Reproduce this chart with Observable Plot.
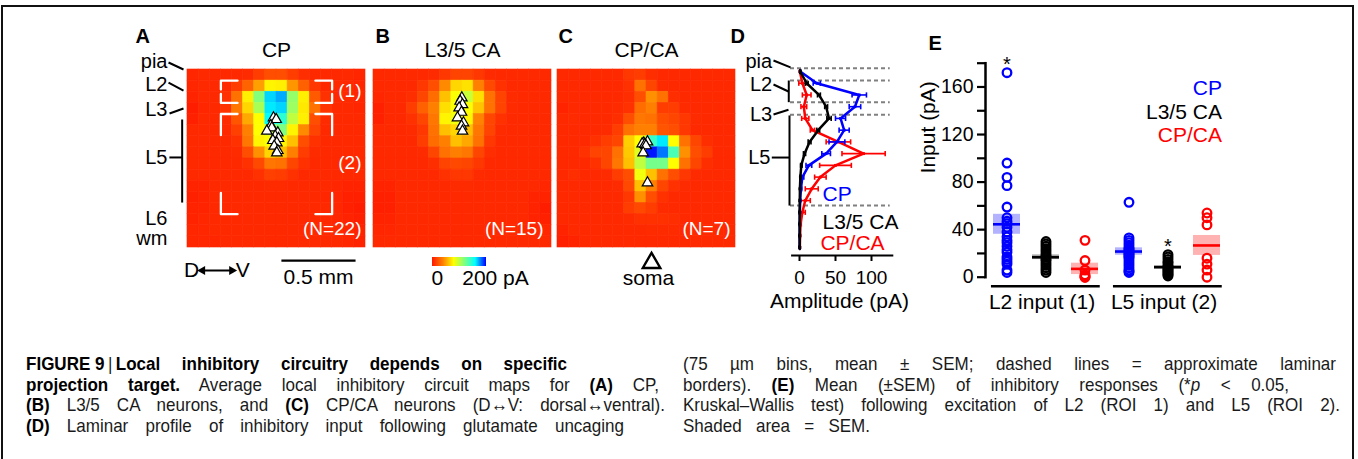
<!DOCTYPE html>
<html><head><meta charset="utf-8">
<script src="https://cdn.jsdelivr.net/npm/d3@7"></script>
<script src="https://cdn.jsdelivr.net/npm/@observablehq/plot@0.6"></script>
<style>
html,body{margin:0;padding:0;background:#fff;}
#fig{position:relative;width:1358px;height:459px;overflow:hidden;font-family:"Liberation Sans",Arial,Helvetica,sans-serif;}
#frame{position:absolute;left:1px;top:5px;width:1349px;height:480px;border:2px solid #111;}
.cap{position:absolute;font-family:"Liberation Sans",Arial,sans-serif;font-size:18.5px;line-height:20px;height:20px;text-align:justify;text-align-last:justify;color:#1a1a1a;transform-origin:0 50%;white-space:normal;}
.cap b{font-weight:bold;color:#000;}
.cap .ib{display:inline-block;}
</style></head><body><div id="fig"><div id="frame"></div></div>
<script>
// ---------------- DATA ----------------
const BIN_UM = 75;          // map / profile bin size (µm)
const N_BINS = 16;

// Average inhibitory maps (pA), rows = depth from pia, cols = dorsal -> ventral
const mapCP = [
 [4,5,5,5,5,6,12,18,18,12,7,5,5,5,5,4],
 [4,5,5,5,12,25,45,72,70,42,24,10,5,5,5,4],
 [3,5,5,8,30,70,104,150,160,100,70,22,8,5,5,4],
 [1,4,5,9,32,62,95,145,150,98,68,30,9,5,5,4],
 [2,5,5,6,20,48,75,140,128,90,70,18,6,5,5,5],
 [5,5,5,5,13,35,75,90,105,72,38,14,5,5,5,5],
 [5,5,5,5,8,32,72,76,72,55,18,8,5,5,5,5],
 [5,5,5,5,6,18,40,62,55,35,12,6,5,5,5,5],
 [5,5,5,5,5,8,16,32,30,15,8,5,5,5,5,5],
 [5,5,5,5,5,5,8,13,12,8,5,5,5,5,5,5],
 [3,3,5,5,5,5,5,6,6,5,5,5,5,4,3,3],
 [2,3,5,5,5,5,5,5,5,5,5,5,4,4,2,2],
 [3,3,5,5,5,5,5,5,5,5,5,5,5,4,2,1],
 [3,4,5,5,5,5,5,5,5,5,5,5,5,4,3,2],
 [4,4,5,5,5,5,5,5,5,5,5,5,5,5,4,3],
 [4,4,4,5,5,5,5,5,5,5,5,5,5,5,4,3]
];
const mapCA = [
 [5,5,5,5,5,6,10,14,14,10,6,5,5,5,5,5],
 [5,5,5,5,10,18,38,62,66,35,16,8,5,5,5,5],
 [4,5,5,7,15,28,55,76,88,65,30,14,6,5,5,5],
 [2,5,5,12,24,35,65,76,76,56,30,14,6,5,5,5],
 [2,5,5,8,15,32,72,78,72,36,15,8,5,5,5,5],
 [5,5,5,6,10,30,55,62,55,32,14,6,5,5,5,5],
 [5,5,5,5,12,28,35,55,48,30,10,5,5,5,5,5],
 [5,5,5,5,6,15,30,35,32,15,7,5,5,5,5,5],
 [5,5,5,5,5,7,14,16,15,10,5,5,5,5,5,5],
 [5,5,5,5,5,5,8,10,10,6,5,5,5,5,5,5],
 [3,3,5,5,5,5,5,6,6,5,5,5,5,5,5,4],
 [2,2,5,5,5,5,5,5,5,5,5,5,5,5,3,3],
 [2,2,5,5,5,5,5,5,5,5,5,5,5,5,3,1],
 [3,3,5,5,5,5,5,5,5,5,5,5,5,5,3,2],
 [4,4,5,5,5,5,5,5,5,5,5,5,5,5,4,4],
 [5,5,5,5,5,5,5,5,5,5,5,5,5,5,5,5]
];
const mapCPCA = [
 [5,5,5,5,5,5,10,12,7,5,5,5,5,5,5,5],
 [5,5,5,5,5,5,8,30,15,6,5,5,5,5,5,5],
 [5,5,5,5,5,5,7,18,40,30,7,5,5,5,5,5],
 [3,5,5,5,5,6,8,28,35,12,12,6,5,5,5,5],
 [5,6,5,5,5,7,18,32,30,18,15,10,6,5,5,5],
 [5,5,5,5,6,12,30,35,35,20,18,10,5,5,5,5],
 [5,5,5,8,12,15,60,75,125,145,75,30,15,7,5,5],
 [5,5,8,14,15,30,58,82,195,172,120,40,18,12,5,5],
 [5,5,5,8,15,32,55,90,108,108,75,30,15,7,5,5],
 [5,7,5,5,6,12,18,78,55,30,18,10,6,5,5,5],
 [5,5,5,5,5,6,16,55,35,15,8,6,5,5,5,5],
 [5,5,5,5,5,5,10,40,18,8,5,5,5,5,5,5],
 [5,5,5,5,5,5,12,16,12,6,5,5,5,5,5,5],
 [5,5,5,5,5,5,6,8,8,8,7,5,5,5,5,5],
 [3,5,5,5,5,5,5,5,6,6,6,5,5,5,5,5],
 [2,3,5,5,5,5,5,5,5,5,5,5,5,5,5,5]
];
// soma positions, in map bins [col, row]
const somaCP = [[7.73,4.34],[7.97,4.49],[7.49,5.03],[7.58,5.24],[7.13,5.54],[8.12,5.69],[7.88,5.99],[8.18,6.2],[7.67,6.38],[8.03,6.59],[7.79,6.89],[8.12,7.28],[8.03,7.49]];
const somaCA = [[7.94,2.55],[7.79,2.85],[8.0,3.15],[7.7,3.45],[7.91,3.84],[7.55,4.34],[8.09,4.79],[7.91,5.09],[8.0,5.54]];
const somaCPCA = [[8.09,6.5],[7.75,6.6],[7.61,6.68],[7.85,6.74],[7.95,6.85],[7.7,7.49],[8.09,10.19]];
const nCP = 22, nCA = 15, nCPCA = 7;
// ROIs used in panel E (bins)
const roiNames = ["(1)", "(2)"];
const roiCols = [[3,13],[3,13]];
const roiRows = [[1,3],[4,13]];

// colour map (pA)
const colorStops = [0, 35, 75, 105, 140, 200];
const colorRange = ["#ff1a00", "#ff8000", "#ffff00", "#80ff80", "#00ffff", "#0000ff"];

// Panel D laminar profile (mean ± SEM per 75 µm bin)
const profCPMean   = [1, 24, 83, 77, 57, 62, 52, 37, 13, 4, 2, 1, 0.5, 0.3, 0.3, 0.3];
const profCPSem    = [0.5, 5, 10, 8, 7, 7, 11, 6, 4, 2, 1, 0.5, 0.3, 0.2, 0.2, 0.2];
const profCAMean   = [1, 10, 27, 37, 41, 26, 14, 7, 2.5, 1.2, 0.6, 0.4, 0.3, 0.3, 0.3, 0.3];
const profCASem    = [0.5, 2, 2, 2, 3, 2, 2, 1.5, 1, 0.5, 0.3, 0.2, 0.2, 0.2, 0.2, 0.2];
const profCPCAMean = [0.5, 4, 10, 6, 8, 18, 54, 89, 50, 29, 17, 8, 4, 1.5, 0.8, 0.5];
const profCPCASem  = [0.3, 5, 6, 4, 5, 3, 17, 30, 22, 8, 9, 7, 4, 1, 0.5, 0.3];
const borderDepths = [-21, 57.5, 196, 277, 857]; // approximate laminar borders (µm)
const ampTicks = [0, 50, 100];

// Panel E inputs (pA)
const regions = ["L2 input (1)", "L5 input (2)"];
const seriesNames = ["CP", "L3/5 CA", "CP/CA"];
const seriesColors = ["#0000ff", "#000000", "#ff0000"];
const l2CP   = [172, 96, 84, 77, 59, 50, 47, 45, 42, 38, 34, 31, 29, 26, 23, 21, 17, 15, 13, 11, 6, 4];
const l2CA   = [30, 28, 26, 24, 22, 20, 18, 17, 15, 14, 12, 10, 8, 6, 4];
const l2CPCA = [31, 14, 6, 2, 1, 0, 0];
const l5CP   = [63, 33, 31, 29, 27, 25, 24, 23, 22, 21, 20, 19, 18, 17, 16, 14, 12, 10, 8, 6, 5, 4];
const l5CA   = [19, 17, 15, 13, 12, 10, 9, 8, 7, 6, 5, 4, 3, 2, 1];
const l5CPCA = [54, 50, 44, 16, 11, 6, 0];
const l2Mean = [44.5, 16.8, 7];
const l2Sem  = [8.4, 2, 4.8];
const l5Mean = [21.6, 8.4, 26.7];
const l5Sem  = [3.1, 1.4, 8.4];
const significant = [["L2 input (1)", "CP"], ["L5 input (2)", "L3/5 CA"]];
const inputTicks = [0, 20, 40, 60, 80, 100, 120, 140, 160, 180];

// ---------------- DRAWING ----------------
const FONT = '"Liberation Sans", Arial, Helvetica, sans-serif';
const fig = document.getElementById("fig");
const colorOpts = {type: "linear", domain: colorStops, range: colorRange, interpolate: "rgb", clamp: true};
const MAP_PX = 178, MAP_TOP = 69;
const plotStyle = fs => ({background: "transparent", overflow: "visible", fontFamily: FONT, fontSize: fs + "px", color: "black"});
function place(el, left, top) {
  el.style.position = "absolute"; el.style.left = left + "px"; el.style.top = top + "px";
  el.style.maxWidth = "none";
  fig.appendChild(el); return el;
}
const vtick = {draw(ctx, size) { const h = Math.sqrt(size / Math.PI); ctx.moveTo(0, -h); ctx.lineTo(0, h); }};

function heatmap(values, soma, n, nDx, mapLeft, svgLeft, svgWidth, extra) {
  const cells = values.flatMap((row, r) => row.map((v, c) => ({r, c, v})));
  const mL = mapLeft - svgLeft, mT = MAP_TOP - 20, H = 290;
  const svg = Plot.plot({
    width: svgWidth, height: H,
    marginLeft: mL, marginRight: svgWidth - mL - MAP_PX, marginTop: mT, marginBottom: H - mT - MAP_PX,
    x: {domain: [0, N_BINS * BIN_UM], axis: null},
    y: {domain: [0, N_BINS * BIN_UM], reverse: true, axis: null},
    color: colorOpts,
    style: plotStyle(20),
    marks: [
      Plot.rect(cells, {x1: d => d.c * BIN_UM, x2: d => (d.c + 1) * BIN_UM, y1: d => d.r * BIN_UM, y2: d => (d.r + 1) * BIN_UM, fill: "v", stroke: "v", strokeWidth: 0.6}),
      ...extra,
      Plot.text([`(N=${n})`], {frameAnchor: "bottom-right", dx: nDx, dy: -13, textAnchor: "end", fill: "white", fontSize: 19}),
      Plot.dot(soma, {x: d => d[0] * BIN_UM, y: d => d[1] * BIN_UM, symbol: "triangle", r: 3.9, fill: "white", stroke: "black", strokeWidth: 1.2})
    ]
  });
  return place(svg, svgLeft, 20);
}

// ROI brackets (panel A)
const armH = 1.5;
const brackets = [];
roiNames.forEach((nm, i) => {
  const [c0, c1] = roiCols[i], [r0, r1] = roiRows[i];
  const armV = Math.min(1.9, (r1 - r0) * 0.4);
  [[c0, r0, 1, 1], [c1, r0, -1, 1], [c0, r1, 1, -1], [c1, r1, -1, -1]].forEach(([cx, cy, sx, sy], k) => {
    const id = nm + k;
    brackets.push({id, x: (cx + sx * armH) * BIN_UM, y: cy * BIN_UM});
    brackets.push({id, x: cx * BIN_UM, y: cy * BIN_UM});
    brackets.push({id, x: cx * BIN_UM, y: (cy + sy * armV) * BIN_UM});
  });
});
const roiLabelY = roiRows.map(([r0, r1]) => r0 === 1 ? 146 : 627);

// ---- Panel A ----
heatmap(mapCP, somaCP, nCP, -4, 187, 120, 250, [
  Plot.line(brackets, {x: "x", y: "y", z: "id", stroke: "white", strokeWidth: 2.3}),
  Plot.text(roiNames, {x: 1173, y: roiLabelY, textAnchor: "end", fill: "white", fontSize: 19}),
  Plot.text(["A"], {x: -350, y: -222, textAnchor: "start", fontWeight: "bold", fontSize: 20}),
  Plot.text(["CP"], {x: 600, y: -128, fontSize: 21}),
  Plot.text(["pia", "L2", "L3", "L5", "L6", "wm"], {x: -135, y: [-54, 101, 270, 593, 1005, 1140], textAnchor: "end", fontSize: 20}),
  Plot.link([[-128, -47, -27, 0], [-128, 88, -27, 142], [-121, 297, -27, 263], [-36, 337, -36, 897], [-122, 593, -36, 593]],
    {x1: d => d[0], y1: d => d[1], x2: d => d[2], y2: d => d[3], stroke: "black", strokeWidth: 2}),
  Plot.text(["D", "V"], {x: [27, 373], y: 1355, fontSize: 21}),
  Plot.link([0], {x1: 90, x2: 310, y1: 1355, y2: 1355, stroke: "black", strokeWidth: 2}),
  Plot.dot([-90, 90], {x: [101, 299], y: 1355, rotate: d => d, symbol: "triangle", r: 3.4, fill: "black"}),
  Plot.link([500], {x1: d => 1133 - d, x2: 1133, y1: 1288, y2: 1288, stroke: "black", strokeWidth: 2.2}),
  Plot.text(["0.5 mm"], {x: 883, y: 1400, fontSize: 21})
]);

// ---- Panel B ----
heatmap(mapCA, somaCA, nCA, -8, 373, 363, 192, [
  Plot.text(["B"], {x: 13, y: -222, textAnchor: "start", fontWeight: "bold", fontSize: 20}),
  Plot.text(["L3/5 CA"], {x: 600, y: -128, fontSize: 21}),
  Plot.text([String(colorStops[0])], {x: 431, y: 1409, fontSize: 21}),
  Plot.text([colorStops[colorStops.length - 1] + " pA"], {x: 598, y: 1409, textAnchor: "start", fontSize: 21})
]);

// ---- Panel C ----
heatmap(mapCPCA, somaCPCA, nCPCA, -5, 557, 547, 192, [
  Plot.text(["C"], {x: 7, y: -222, textAnchor: "start", fontWeight: "bold", fontSize: 20}),
  Plot.text(["CP/CA"], {x: 600, y: -128, fontSize: 21}),
  Plot.dot([0], {x: 634, y: 1304, symbol: "triangle", r: 6.5, fill: "white", stroke: "black", strokeWidth: 2.4}),
  Plot.text(["soma"], {x: 613, y: 1409, fontSize: 21})
]);

// colour bar
try {
  const ramp = Plot.legend({color: colorOpts, legend: "ramp", width: 54, height: 9, marginTop: 0, marginBottom: 0, marginLeft: 0, marginRight: 0, ticks: [], tickSize: 0, label: null});
  place(ramp, 432, 257);
} catch (e) { console.error(e); }

// ---- Panel D ----
const profiles = [
  {name: "CP/CA", color: "#ff0000", mean: profCPCAMean, sem: profCPCASem},
  {name: "CP", color: "#0000ff", mean: profCPMean, sem: profCPSem},
  {name: "L3/5 CA", color: "#000000", mean: profCAMean, sem: profCASem}
];
const profMarks = profiles.flatMap(p => {
  const rows = p.mean.map((m, i) => ({depth: i * BIN_UM, mean: m, lo: m - p.sem[i], hi: m + p.sem[i]}));
  return [
    Plot.link(rows, {x1: "lo", x2: "hi", y1: "depth", y2: "depth", stroke: p.color, strokeWidth: 1.6}),
    Plot.dot(rows, {x: "lo", y: "depth", symbol: vtick, r: 2.6, fill: "none", stroke: p.color, strokeWidth: 1.6}),
    Plot.dot(rows, {x: "hi", y: "depth", symbol: vtick, r: 2.6, fill: "none", stroke: p.color, strokeWidth: 1.6}),
    Plot.line(rows, {x: "mean", y: "depth", stroke: p.color, strokeWidth: 2.5}),
    Plot.dot(rows, {x: "mean", y: "depth", symbol: "square", r: 1.6, fill: p.color})
  ];
});
const dSvg = Plot.plot({
  width: 190, height: 300, marginLeft: 71.7, marginRight: 18.3, marginTop: 30, marginBottom: 65,
  x: {domain: [0, 100], range: [79, 151], axis: null},
  y: {domain: [0, (N_BINS - 1) * BIN_UM], range: [51, 227], axis: null},
  style: plotStyle(20),
  marks: [
    Plot.ruleY(borderDepths, {x1: -12.5, x2: 126, stroke: "#808080", strokeWidth: 2, strokeDasharray: "4 3"}),
    ...profMarks,
    Plot.frame({anchor: "bottom", strokeWidth: 2.2}),
    Plot.axisX({ticks: ampTicks, tickSize: 6, tickPadding: 9, fontSize: 19, strokeWidth: 2, label: null}),
    Plot.text(["Amplitude (pA)"], {x: 55.5, y: 1470, fontSize: 21}),
    Plot.text(["D"], {x: -95.8, y: -224, textAnchor: "start", fontWeight: "bold", fontSize: 20}),
    Plot.text(["pia", "L2", "L3", "L5"], {x: [-38, -38, -38, -40.3], y: [-64, 83, 275, 550], textAnchor: "end", fontSize: 20}),
    Plot.link([[-36.1, -70, -12.5, -26], [-36.1, 83, -15.3, 128], [-14.9, 57.5, -14.9, 196], [-36.1, 275, -15.3, 245], [-13.9, 281, -13.9, 857], [-38.5, 550, -13.9, 550]],
      {x1: d => d[0], y1: d => d[1], x2: d => d[2], y2: d => d[3], stroke: "black", strokeWidth: 2}),
    Plot.text(["CP"], {x: 32, y: 786, textAnchor: "start", fill: "#0000ff", fontSize: 21}),
    Plot.text(["L3/5 CA"], {x: 32, y: 963, textAnchor: "start", fill: "#000000", fontSize: 21}),
    Plot.text(["CP/CA"], {x: 29, y: 1096, textAnchor: "start", fill: "#ff0000", fontSize: 21})
  ]
});
place(dSvg, 720, 20);

// ---- Panel E ----
const inputValues = [[l2CP, l2CA, l2CPCA], [l5CP, l5CA, l5CPCA]];
const inputMeans = [l2Mean, l5Mean], inputSems = [l2Sem, l5Sem];
const colorOf = s => seriesColors[seriesNames.indexOf(s)];
const eRows = [], eSummary = [];
regions.forEach((reg, gi) => seriesNames.forEach((s, si) => {
  inputValues[gi][si].forEach(v => eRows.push({region: reg, series: s, value: v}));
  eSummary.push({region: reg, series: s, mean: inputMeans[gi][si], sem: inputSems[gi][si], max: d3.max(inputValues[gi][si])});
}));
const sigRows = significant.map(([reg, s]) => eSummary.find(d => d.region === reg && d.series === s));
const legendDy = [17.3, 40.6, 64];
const eSvg = Plot.plot({
  width: 330, height: 300, marginLeft: 85, marginRight: 9.7, marginTop: 42.7, marginBottom: 34.3,
  fx: {domain: regions, paddingInner: 0.076, paddingOuter: 0, axis: "bottom", tickSize: 0, tickPadding: 8, label: null},
  x: {domain: seriesNames, paddingInner: 0.316, paddingOuter: 0.088, align: 1, axis: null},
  y: {domain: [0, 180], range: [256.7, 42.7], axis: null},
  color: {type: "identity"},
  style: plotStyle(21),
  marks: [
    Plot.barY(eSummary, {fx: "region", x: "series", y1: d => d.mean - d.sem, y2: d => d.mean + d.sem, fill: d => colorOf(d.series), fillOpacity: 0.3}),
    Plot.dot(eRows, {fx: "region", x: "series", y: "value", r: 4.3, fill: "none", stroke: d => colorOf(d.series), strokeWidth: 2.3}),
    Plot.tickY(eSummary, {fx: "region", x: "series", y: "mean", stroke: d => colorOf(d.series), strokeWidth: 2.6}),
    Plot.text(sigRows, {fx: "region", x: "series", y: "max", text: () => "*", dy: -8, fontSize: 20}),
    Plot.frame({anchor: "bottom", insetLeft: 6.7, strokeWidth: 2.5}),
    Plot.frame({anchor: "left", facetAnchor: "left", insetBottom: 9, strokeWidth: 2.5}),
    Plot.axisY({ticks: inputTicks, tickFormat: d => d % 40 === 0 ? String(d) : "", tickSize: 8, tickPadding: 4, fontSize: 19.5, strokeWidth: 2.2, label: null}),
    Plot.text(["Input (pA)"], {frameAnchor: "left", facetAnchor: "left", dx: -57, y: [87.3], rotate: -90, fontSize: 21}),
    Plot.text(["E"], {frameAnchor: "top-left", facetAnchor: "left", dx: -57, dy: -27.7, textAnchor: "start", fontWeight: "bold", fontSize: 20}),
    ...seriesNames.map((s, i) => Plot.text([s], {frameAnchor: "top-right", facetAnchor: "right", dx: 1.4, dy: legendDy[i], textAnchor: "end", fill: seriesColors[i], fontSize: 21}))
  ]
});
place(eSvg, 900, 20);

// ---- Caption ----
const CAP_SCALE = 0.92;
const captionLines = [
  [26, 364, 567, `<span class="ib"><b>FIGURE\u00a09</b>\u2009|\u2009<b>Local</b></span> <b>inhibitory circuitry depends on specific</b>`],
  [26, 385, 659, `<b>projection target.</b> Average local inhibitory circuit maps for <b>(A)</b> CP,`],
  [26, 405, 665, `<b>(B)</b> L3/5 CA neurons, and <b>(C)</b> CP/CA neurons (D\u2194V: dorsal\u2194ventral).`],
  [26, 426, 624, `<b>(D)</b> Laminar profile of inhibitory input following glutamate uncaging`],
  [683, 364, 1336, `(75 \u00b5m bins, mean \u00b1 SEM; dashed lines = approximate laminar`],
  [683, 385, 1289, `borders). <b>(E)</b> Mean (\u00b1SEM) of inhibitory responses (*<i>p</i> &lt; 0.05,`],
  [683, 405, 1340, `Kruskal\u2013Wallis test) following excitation of L2 (ROI 1) and L5 (ROI 2).`],
  [683, 426, 870, `Shaded area = SEM.`]
];
captionLines.forEach(([x, y, x2, html]) => {
  const d = document.createElement("div");
  d.className = "cap";
  d.style.left = x + "px"; d.style.top = (y - 10) + "px"; d.style.width = ((x2 - x) / CAP_SCALE) + "px";
  d.style.transform = `scaleX(${CAP_SCALE})`;
  d.innerHTML = html;
  fig.appendChild(d);
});
</script></body></html>
